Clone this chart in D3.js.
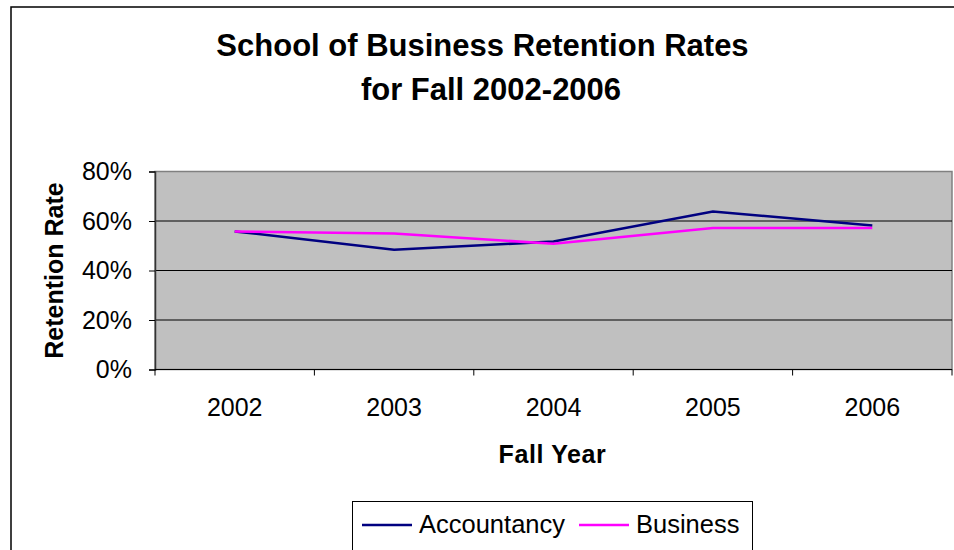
<!DOCTYPE html>
<html>
<head>
<meta charset="utf-8">
<script src="https://cdn.jsdelivr.net/npm/d3@7"></script>
<style>
  html, body { margin: 0; padding: 0; background: #fff; }
  svg { display: block; font-family: "Liberation Sans", Arial, sans-serif; }
</style>
</head>
<body>
<svg id="chart" width="954" height="550"></svg>
<script>
// Fall retention rates by year for the two programs
const years = ["2002", "2003", "2004", "2005", "2006"];
const accountancy = [0.558, 0.484, 0.517, 0.638, 0.582];
const business = [0.558, 0.549, 0.508, 0.572, 0.572];
const yTicks = [0, 0.2, 0.4, 0.6, 0.8];
const titleLines = ["School of Business Retention Rates", "for Fall 2002-2006"];
const seriesNames = ["Accountancy", "Business"];
const seriesColors = ["#000080", "#FF00FF"];

const svg = d3.select("#chart");

// outer chart frame
svg.append("rect")
  .attr("x", 11).attr("y", 7)
  .attr("width", 960).attr("height", 560)
  .attr("fill", "#fff").attr("stroke", "#000").attr("stroke-width", 1.5);

// title
svg.append("text")
  .attr("x", 482.5).attr("y", 56)
  .attr("text-anchor", "middle")
  .attr("font-size", 31).attr("font-weight", "bold")
  .text(titleLines[0]);
svg.append("text")
  .attr("x", 491).attr("y", 100)
  .attr("text-anchor", "middle")
  .attr("font-size", 31).attr("font-weight", "bold")
  .text(titleLines[1]);

const plot = { left: 155, right: 952, top: 171.5, bottom: 369.5 };

const x = d3.scaleBand().domain(years).range([plot.left, plot.right]).padding(0);
const y = d3.scaleLinear().domain([0, 0.8]).range([plot.bottom, plot.top]);

// plot area background and border
svg.append("rect")
  .attr("x", plot.left).attr("y", plot.top)
  .attr("width", plot.right - plot.left).attr("height", plot.bottom - plot.top)
  .attr("fill", "#C0C0C0").attr("stroke", "#808080").attr("stroke-width", 1.5);

// horizontal gridlines
svg.append("g")
  .selectAll("line")
  .data(yTicks.filter(d => d > 0 && d < 0.8))
  .join("line")
  .attr("x1", plot.left).attr("x2", plot.right)
  .attr("y1", d => y(d)).attr("y2", d => y(d))
  .attr("stroke", "#000").attr("stroke-width", 1.2);

// y axis
const yAxis = svg.append("g")
  .attr("transform", `translate(${plot.left},0)`)
  .call(d3.axisLeft(y).tickValues(yTicks).tickFormat(d3.format(".0%")).tickSize(6).tickPadding(17));
yAxis.select(".domain").attr("stroke", "#333").attr("stroke-width", 1.5);
yAxis.selectAll(".tick line").attr("stroke", "#000");
yAxis.selectAll(".tick text")
  .attr("font-size", 25).attr("fill", "#000")
  .attr("font-family", "Liberation Sans, Arial, sans-serif");

// x axis: labels at category centers, ticks at category boundaries
const xAxis = svg.append("g")
  .attr("transform", `translate(0,${plot.bottom})`)
  .call(d3.axisBottom(x).tickSize(0).tickPadding(0));
xAxis.select(".domain").remove();
xAxis.selectAll(".tick text")
  .attr("y", 0).attr("dy", 46.5)
  .attr("font-size", 25).attr("fill", "#000")
  .attr("font-family", "Liberation Sans, Arial, sans-serif");

svg.append("line")
  .attr("x1", plot.left).attr("x2", plot.right)
  .attr("y1", plot.bottom).attr("y2", plot.bottom)
  .attr("stroke", "#000").attr("stroke-width", 1.2);
const boundaries = years.map(d => x(d)).concat([x.range()[1]]);
svg.append("g")
  .selectAll("line")
  .data(boundaries)
  .join("line")
  .attr("x1", d => d).attr("x2", d => d)
  .attr("y1", plot.bottom).attr("y2", plot.bottom + 6)
  .attr("stroke", "#000").attr("stroke-width", 1);

// axis titles
svg.append("text")
  .attr("transform", `translate(63,${(plot.top + plot.bottom) / 2}) rotate(-90)`)
  .attr("text-anchor", "middle")
  .attr("font-size", 25).attr("font-weight", "bold")
  .text("Retention Rate");
svg.append("text")
  .attr("x", (plot.left + plot.right) / 2 - 1).attr("y", 463)
  .attr("text-anchor", "middle")
  .attr("font-size", 25).attr("font-weight", "bold")
  .attr("letter-spacing", 0.6)
  .text("Fall Year");

// series lines
const line = d3.line()
  .x((d, i) => x(years[i]) + x.bandwidth() / 2)
  .y(d => y(d));
[accountancy, business].forEach((vals, k) => {
  svg.append("path")
    .datum(vals)
    .attr("fill", "none")
    .attr("stroke", seriesColors[k])
    .attr("stroke-width", 2.5)
    .attr("stroke-linejoin", "miter")
    .attr("d", line);
});

// legend
const legend = svg.append("g");
legend.append("rect")
  .attr("x", 352.5).attr("y", 501.5)
  .attr("width", 400).attr("height", 60)
  .attr("fill", "#fff").attr("stroke", "#000").attr("stroke-width", 1);
const legendItems = [
  { x0: 362, x1: 412, tx: 419 },
  { x0: 579, x1: 629, tx: 636 }
];
legendItems.forEach((it, k) => {
  legend.append("line")
    .attr("x1", it.x0).attr("x2", it.x1)
    .attr("y1", 525).attr("y2", 525)
    .attr("stroke", seriesColors[k]).attr("stroke-width", 2.5);
  legend.append("text")
    .attr("x", it.tx).attr("y", 533)
    .attr("font-size", 25.5)
    .text(seriesNames[k]);
});
</script>
</body>
</html>
